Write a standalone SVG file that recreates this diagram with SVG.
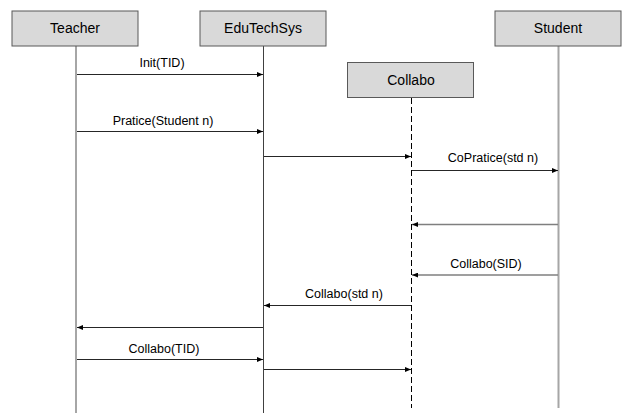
<svg xmlns="http://www.w3.org/2000/svg" width="626" height="413" viewBox="0 0 626 413">
<style>
.box{fill:#d9d9d9;stroke:#595959;stroke-width:1}
.bt{font-family:"Liberation Sans",Arial,sans-serif;font-size:14px;fill:#000;text-anchor:middle}
.lt{font-family:"Liberation Sans",Arial,sans-serif;font-size:12.5px;fill:#000;text-anchor:middle}
.life{stroke:#a6a6a6;stroke-width:2;fill:none}
.lifed{stroke:#404040;stroke-width:1;fill:none}
.dash{stroke:#000;stroke-width:1;stroke-dasharray:6,3;fill:none}
.msg{stroke:#262626;stroke-width:1;fill:none;marker-end:url(#ah)}
.msgg{stroke:#7f7f7f;stroke-width:1.5;fill:none;marker-end:url(#ah)}
</style>
<defs>
<marker id="ah" viewBox="0 0 10 8" refX="10" refY="4" markerWidth="6" markerHeight="5" markerUnits="userSpaceOnUse" orient="auto">
<path d="M0,0 L10,4 L0,8 z" fill="#000"/>
</marker>
</defs>
<rect width="626" height="413" fill="#fff"/>
<g id="lifelines">
<line class="life" x1="76" y1="46" x2="76" y2="413"/>
<line class="lifed" x1="263.5" y1="46" x2="263.5" y2="413"/>
<line class="dash" x1="411.5" y1="98" x2="411.5" y2="408"/>
<line class="life" x1="558.5" y1="46" x2="558.5" y2="408"/>
</g>
<g id="teacher"><rect class="box" x="12" y="11" width="126" height="35"/><text class="bt" x="75" y="33">Teacher</text></g>
<g id="edutechsys"><rect class="box" x="200" y="11" width="126" height="35"/><text class="bt" x="263" y="33">EduTechSys</text></g>
<g id="student"><rect class="box" x="495" y="11" width="126" height="35"/><text class="bt" x="558" y="33">Student</text></g>
<g id="collabo"><rect class="box" x="347.5" y="62.5" width="126" height="35"/><text class="bt" x="411" y="85">Collabo</text></g>
<g id="connectors">
<line class="msg" x1="77" y1="74.5" x2="263" y2="74.5"/>
<text class="lt" x="162" y="67">Init(TID)</text>
<line class="msg" x1="77" y1="131.5" x2="263" y2="131.5"/>
<text class="lt" x="163" y="125">Pratice(Student n)</text>
<line class="msg" x1="264" y1="156.5" x2="411" y2="156.5"/>
<line class="msg" x1="412" y1="170.5" x2="558" y2="170.5"/>
<text class="lt" x="493" y="162">CoPratice(std n)</text>
<line class="msgg" x1="558" y1="224.5" x2="412" y2="224.5"/>
<line class="msgg" x1="558" y1="275" x2="412" y2="275"/>
<text class="lt" x="486" y="268">Collabo(SID)</text>
<line class="msg" x1="411" y1="305.5" x2="264" y2="305.5"/>
<text class="lt" x="344" y="298">Collabo(std n)</text>
<line class="msg" x1="263" y1="327.5" x2="77" y2="327.5"/>
<line class="msg" x1="77" y1="359.5" x2="263" y2="359.5"/>
<text class="lt" x="164" y="353">Collabo(TID)</text>
<line class="msg" x1="264" y1="369.5" x2="411" y2="369.5"/>
</g>
</svg>
